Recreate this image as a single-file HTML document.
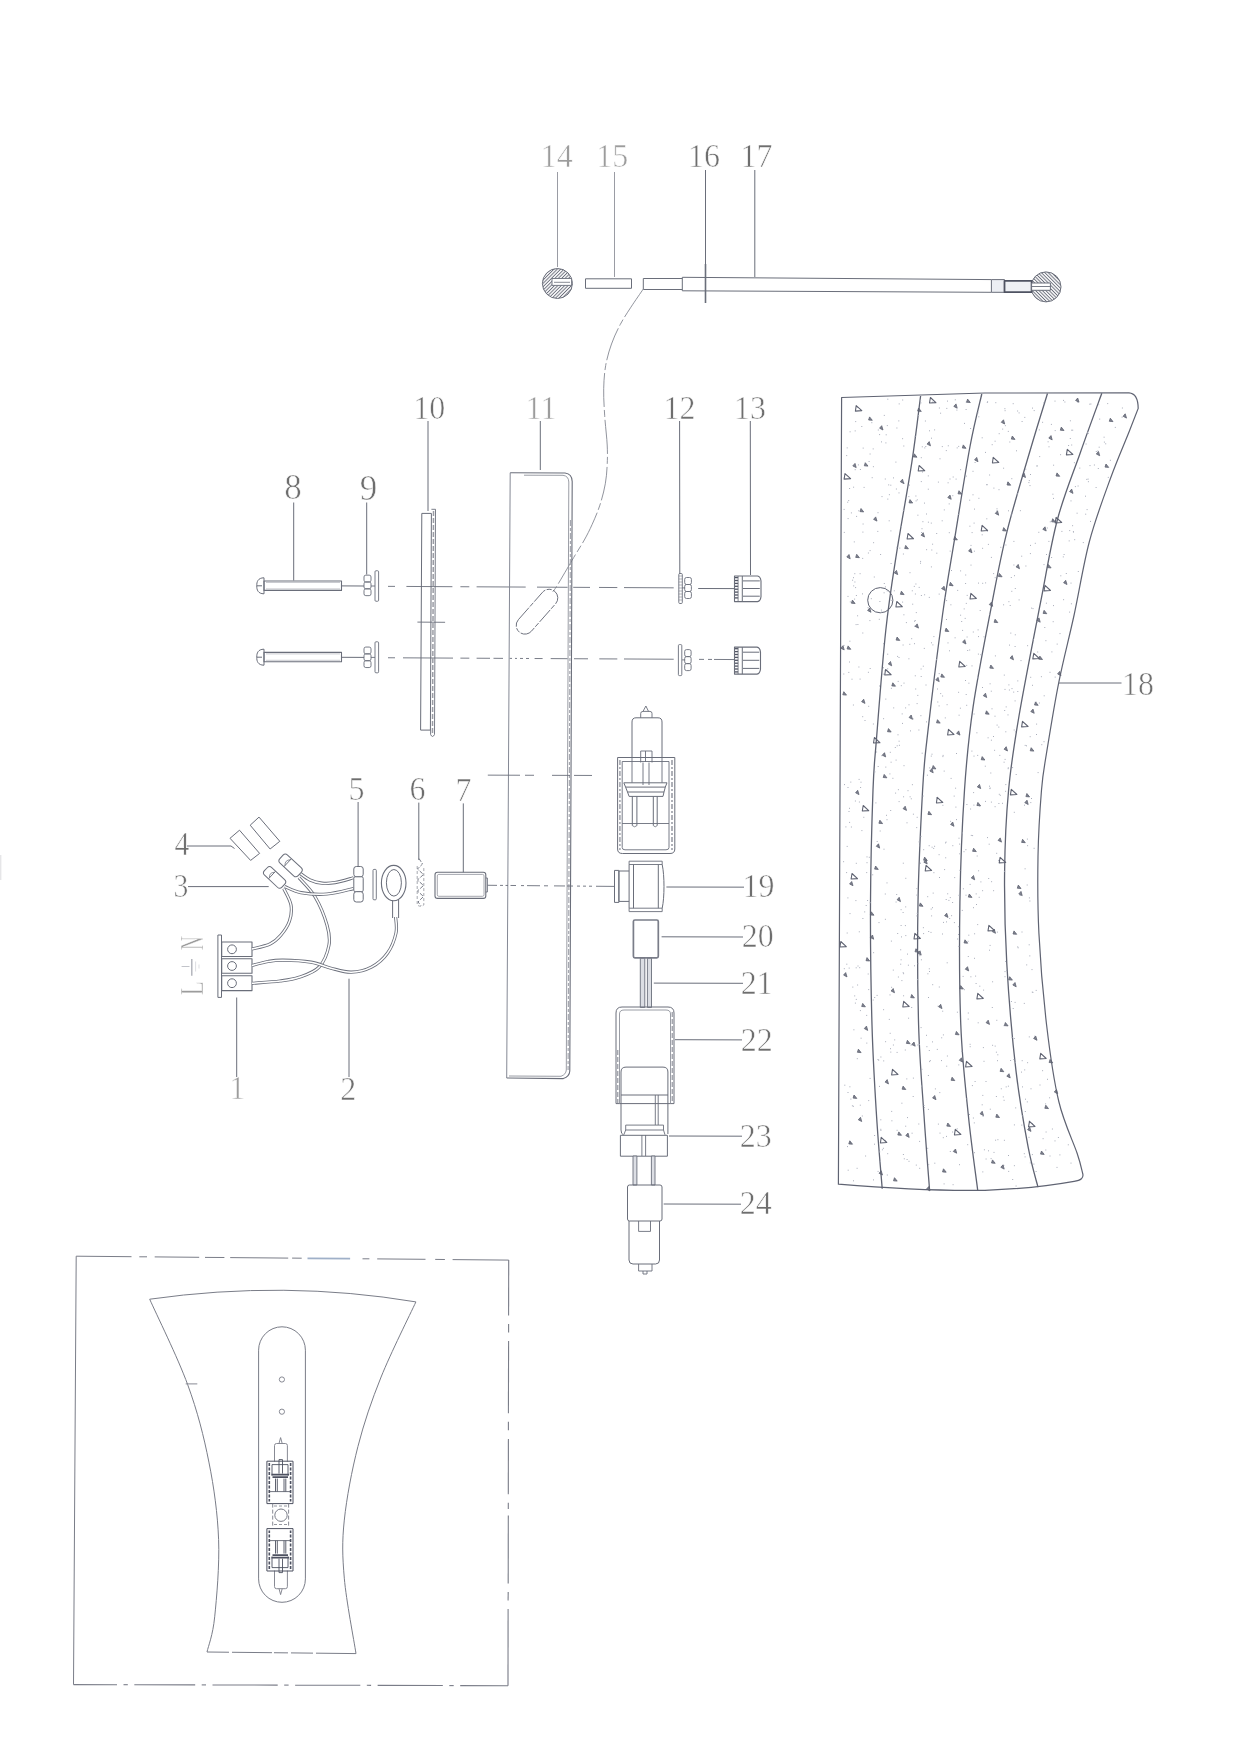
<!DOCTYPE html>
<html><head><meta charset="utf-8"><title>Exploded diagram</title>
<style>
html,body{margin:0;padding:0;background:#fff;}
body{width:1241px;height:1752px;overflow:hidden;font-family:"Liberation Serif",serif;}
svg{display:block;font-family:"Liberation Serif",serif;}
</style></head><body>
<svg width="1241" height="1752" viewBox="0 0 1241 1752" fill="none" stroke="#6a6e7a" stroke-linecap="butt" stroke-linejoin="round">
<defs>
<pattern id="hatch" width="2.4" height="2.4" patternUnits="userSpaceOnUse" patternTransform="rotate(-45)"><rect width="2.4" height="2.4" fill="#fff" stroke="none"/><line x1="0" y1="1.2" x2="2.4" y2="1.2" stroke="#6a6e7a" stroke-width="0.95"/></pattern>
<pattern id="hatch2" width="2.4" height="2.4" patternUnits="userSpaceOnUse" patternTransform="rotate(45)"><rect width="2.4" height="2.4" fill="#fff" stroke="none"/><line x1="0" y1="1.2" x2="2.4" y2="1.2" stroke="#6a6e7a" stroke-width="0.95"/></pattern>
</defs>
<line x1="557.5" y1="172" x2="557.5" y2="267" stroke-width="1" stroke="#9a9ca4"/>
<line x1="614.5" y1="172" x2="614.5" y2="277" stroke-width="1" stroke="#9a9ca4"/>
<line x1="705.5" y1="170" x2="705.5" y2="264" stroke-width="1"/>
<line x1="754.8" y1="170" x2="754.8" y2="277" stroke-width="1"/>
<circle cx="557.4" cy="283.5" r="15" fill="url(#hatch)" stroke-width="1"/>
<rect x="552" y="278.5" width="19.6" height="6.9" stroke-width="0.9" fill="#fff"/>
<line x1="554" y1="282.3" x2="570" y2="282.3" stroke-width="0.8"/>
<rect x="585.5" y="278.8" width="46.0" height="9.5" stroke-width="1" fill="none"/>
<path d="M682.3,278.5 H643.3 V289.5 H682.3" stroke-width="1" fill="none"/>
<path d="M682.3,277.3 L991.4,279.6 M682.3,290.8 L991.4,292.3 M682.3,277.3 V290.8" stroke-width="1" fill="none"/>
<line x1="705.5" y1="264" x2="705.5" y2="303" stroke-width="1.6"/>
<path d="M991.4,279.6 H1004.5 V292.3 H991.4 Z" stroke-width="1" fill="#eceef3"/>
<circle cx="1046" cy="286.9" r="15" fill="url(#hatch2)" stroke-width="1"/>
<rect x="1004.5" y="280.8" width="27.1" height="11.4" stroke-width="1.8" fill="#eef0f4" stroke="#4f5362"/>
<rect x="1031.6" y="283" width="18.8" height="7.3" stroke-width="1" fill="#fff"/>
<line x1="1031.6" y1="286.5" x2="1050.4" y2="286.5" stroke-width="0.9"/>
<path d="M643.5,288.7 C641.4,291.8 634.8,301.2 630.9,307.2 C627.0,313.2 623.4,318.5 620.2,324.6 C617.0,330.7 613.9,337.2 611.5,344 C609.1,350.8 607.0,357.9 605.7,365.4 C604.4,372.8 603.9,380.3 603.7,388.7 C603.5,397.1 604.1,406.4 604.7,415.8 C605.3,425.2 606.8,436.9 607.2,445 C607.6,453.1 607.5,457.9 607.2,464.4 C606.9,470.9 606.5,477.0 605.3,483.8 C604.1,490.6 602.1,498.3 599.9,505.1 C597.7,511.9 594.7,518.7 592.1,524.5 C589.5,530.3 587.4,534.5 584.3,540 C581.2,545.5 576.6,552.6 573.7,557.5 C570.8,562.4 570.0,563.9 566.9,569.1 C563.8,574.3 557.9,584.6 555.2,588.6 C552.6,592.6 551.7,592.3 551,593" stroke-width="0.9" fill="none" stroke="#858892" stroke-dasharray="34 3 7 3"/>
<line x1="428" y1="421" x2="428" y2="511" stroke-width="1"/>
<line x1="540.3" y1="421" x2="540.3" y2="470" stroke-width="1"/>
<line x1="679.6" y1="421" x2="679.8" y2="574" stroke-width="1"/>
<line x1="750.3" y1="421" x2="750.5" y2="575" stroke-width="1"/>
<line x1="293.7" y1="502.5" x2="293.7" y2="580.5" stroke-width="1"/>
<line x1="366.7" y1="502.5" x2="366.7" y2="574.5" stroke-width="1"/>
<path d="M264,577.8 C258,577.8 256.6,581.8 256.8,585.8 C256.6,589.8 258,593.8 264,593.8 Z" stroke-width="1" fill="none"/>
<line x1="256.8" y1="585.8" x2="262" y2="585.8" stroke-width="1"/>
<rect x="264" y="581.0" width="77.5" height="9.4" stroke-width="1.1" fill="none"/>
<line x1="266" y1="582.5" x2="340" y2="582.5" stroke-width="0.6" opacity="0.6"/>
<line x1="266" y1="588.9" x2="340" y2="588.9" stroke-width="0.6" opacity="0.6"/>
<line x1="341.5" y1="585.9" x2="364" y2="586" stroke-width="1"/>
<rect x="364" y="575.15" width="7" height="6.83" stroke-width="0.9" fill="none" rx="1.8"/>
<rect x="364" y="581.98" width="7" height="6.84" stroke-width="0.9" fill="none" rx="1.8"/>
<rect x="364" y="588.82" width="7" height="6.83" stroke-width="0.9" fill="none" rx="1.8"/>
<rect x="375" y="570.75" width="3.6" height="30.5" stroke-width="0.9" fill="none" rx="1"/>
<line x1="371" y1="586" x2="375" y2="586" stroke-width="0.9"/>
<line x1="388" y1="586.36" x2="395" y2="586.39" stroke-width="0.9"/>
<line x1="406.4" y1="586.45" x2="452.4" y2="586.69" stroke-width="0.9"/>
<line x1="460.4" y1="586.73" x2="469.3" y2="586.78" stroke-width="0.9"/>
<line x1="476.6" y1="586.82" x2="525.7" y2="587.07" stroke-width="0.9"/>
<line x1="537" y1="587.13" x2="567.6" y2="587.29" stroke-width="0.9"/>
<line x1="573.2" y1="587.32" x2="590" y2="587.41" stroke-width="0.9"/>
<line x1="599" y1="587.45" x2="617.3" y2="587.55" stroke-width="0.9"/>
<line x1="624" y1="587.58" x2="673.7" y2="587.84" stroke-width="0.9"/>
<line x1="698.2" y1="588.5" x2="734.5" y2="588.6" stroke-width="1"/>
<path d="M264,649.2 C258,649.2 256.6,653.2 256.8,657.2 C256.6,661.2 258,665.2 264,665.2 Z" stroke-width="1" fill="none"/>
<line x1="256.8" y1="657.2" x2="262" y2="657.2" stroke-width="1"/>
<rect x="264" y="652.4000000000001" width="77.5" height="9.4" stroke-width="1.1" fill="none"/>
<line x1="266" y1="653.9000000000001" x2="340" y2="653.9000000000001" stroke-width="0.6" opacity="0.6"/>
<line x1="266" y1="660.3000000000001" x2="340" y2="660.3000000000001" stroke-width="0.6" opacity="0.6"/>
<line x1="341.5" y1="657.3" x2="364" y2="657.4" stroke-width="1"/>
<rect x="364" y="647.05" width="7" height="6.83" stroke-width="0.9" fill="none" rx="1.8"/>
<rect x="364" y="653.88" width="7" height="6.84" stroke-width="0.9" fill="none" rx="1.8"/>
<rect x="364" y="660.72" width="7" height="6.83" stroke-width="0.9" fill="none" rx="1.8"/>
<rect x="375" y="641.8" width="3.6" height="31.0" stroke-width="0.9" fill="none" rx="1"/>
<line x1="371" y1="657.4" x2="375" y2="657.4" stroke-width="0.9"/>
<line x1="388" y1="657.76" x2="395" y2="657.79" stroke-width="0.9"/>
<line x1="403" y1="657.84" x2="453" y2="658.1" stroke-width="0.9"/>
<line x1="460.4" y1="658.13" x2="469.3" y2="658.18" stroke-width="0.9"/>
<line x1="476.6" y1="658.22" x2="490" y2="658.29" stroke-width="0.9"/>
<line x1="493.5" y1="658.31" x2="503" y2="658.36" stroke-width="0.9"/>
<line x1="509.6" y1="658.39" x2="512" y2="658.4" stroke-width="0.9"/>
<line x1="515" y1="658.42" x2="517" y2="658.43" stroke-width="0.9"/>
<line x1="520" y1="658.44" x2="523" y2="658.46" stroke-width="0.9"/>
<line x1="526" y1="658.48" x2="529" y2="658.49" stroke-width="0.9"/>
<line x1="534.6" y1="658.52" x2="542.6" y2="658.56" stroke-width="0.9"/>
<line x1="550.7" y1="658.6" x2="567.6" y2="658.69" stroke-width="0.9"/>
<line x1="574" y1="658.72" x2="588" y2="658.8" stroke-width="0.9"/>
<line x1="599.3" y1="658.86" x2="617.3" y2="658.95" stroke-width="0.9"/>
<line x1="624" y1="658.98" x2="673.7" y2="659.24" stroke-width="0.9"/>
<line x1="699" y1="659.37" x2="704" y2="659.4" stroke-width="0.9"/>
<line x1="708" y1="659.42" x2="712" y2="659.44" stroke-width="0.9"/>
<line x1="714" y1="659.45" x2="734.7" y2="659.56" stroke-width="0.9"/>
<path d="M421.8,513.4 H431.4 M421.8,513.4 L420.6,730.1 H430.4 M431.4,513.4 L430.4,730.1" stroke-width="1" fill="none"/>
<path d="M431.4,509.3 H435.5 L434.5,734.5 Q432.5,738.5 430.6,734.5 V730" stroke-width="0.9" fill="none"/>
<line x1="433.5" y1="511" x2="432.5" y2="734" stroke-width="1.5" stroke="#9a9ca4" stroke-dasharray="5 2"/>
<line x1="417.4" y1="622.1" x2="445.1" y2="622.3" stroke-width="0.9"/>
<rect x="678.8" y="573.5" width="3.5" height="30.0" stroke-width="0.9" fill="none" rx="1"/>
<line x1="678.8" y1="576" x2="682.3" y2="576" stroke-width="0.5"/>
<line x1="678.8" y1="579" x2="682.3" y2="579" stroke-width="0.5"/>
<line x1="678.8" y1="582" x2="682.3" y2="582" stroke-width="0.5"/>
<line x1="678.8" y1="585" x2="682.3" y2="585" stroke-width="0.5"/>
<line x1="678.8" y1="588" x2="682.3" y2="588" stroke-width="0.5"/>
<line x1="678.8" y1="591" x2="682.3" y2="591" stroke-width="0.5"/>
<line x1="678.8" y1="594" x2="682.3" y2="594" stroke-width="0.5"/>
<line x1="678.8" y1="597" x2="682.3" y2="597" stroke-width="0.5"/>
<line x1="678.8" y1="600" x2="682.3" y2="600" stroke-width="0.5"/>
<rect x="684.7" y="577.5" width="6.7" height="7.0" stroke-width="0.9" fill="none" rx="1.8"/>
<rect x="684.7" y="584.5" width="6.7" height="7.0" stroke-width="0.9" fill="none" rx="1.8"/>
<rect x="684.7" y="591.5" width="6.7" height="7.0" stroke-width="0.9" fill="none" rx="1.8"/>
<line x1="682.1" y1="587.9" x2="685" y2="587.9" stroke-width="0.9"/>
<rect x="678.4" y="644.6" width="3.4" height="31.0" stroke-width="0.9" fill="none" rx="1"/>
<rect x="684.7" y="649.6" width="6.4" height="7.0" stroke-width="0.9" fill="none" rx="1.8"/>
<rect x="684.7" y="656.6" width="6.4" height="7.0" stroke-width="0.9" fill="none" rx="1.8"/>
<rect x="684.7" y="663.6" width="6.4" height="7.0" stroke-width="0.9" fill="none" rx="1.8"/>
<line x1="682.1" y1="659.9" x2="685" y2="659.9" stroke-width="0.9"/>
<path d="M734.5,576.0 H757.5 Q760.5,576.5 761.0,581.0 V596.5999999999999 Q760.5,601.0999999999999 757.5,601.5999999999999 H734.5 Z" stroke-width="1.1" fill="none"/>
<line x1="742.3" y1="576.0" x2="742.3" y2="601.5999999999999" stroke-width="1"/>
<line x1="735.0" y1="577.6" x2="738.1" y2="577.6" stroke-width="1.3" stroke="#4f5362"/>
<line x1="735.0" y1="580.5" x2="738.1" y2="580.5" stroke-width="1.3" stroke="#4f5362"/>
<line x1="735.0" y1="583.4" x2="738.1" y2="583.4" stroke-width="1.3" stroke="#4f5362"/>
<line x1="735.0" y1="586.3" x2="738.1" y2="586.3" stroke-width="1.3" stroke="#4f5362"/>
<line x1="735.0" y1="589.2" x2="738.1" y2="589.2" stroke-width="1.3" stroke="#4f5362"/>
<line x1="735.0" y1="592.1" x2="738.1" y2="592.1" stroke-width="1.3" stroke="#4f5362"/>
<line x1="735.0" y1="595.0" x2="738.1" y2="595.0" stroke-width="1.3" stroke="#4f5362"/>
<line x1="735.0" y1="597.9" x2="738.1" y2="597.9" stroke-width="1.3" stroke="#4f5362"/>
<line x1="738.1" y1="576.0" x2="738.1" y2="601.5999999999999" stroke-width="0.8"/>
<line x1="743.0" y1="580.9" x2="759.8" y2="580.9" stroke-width="1"/>
<line x1="743.0" y1="588.5" x2="759.8" y2="588.5" stroke-width="1"/>
<line x1="743.0" y1="596.2" x2="759.8" y2="596.2" stroke-width="1"/>
<path d="M734.5,647.1 H757.0 Q760.0,647.6 760.5,652.1 V669.1 Q760.0,673.6 757.0,674.1 H734.5 Z" stroke-width="1.1" fill="none"/>
<line x1="742.3" y1="647.1" x2="742.3" y2="674.1" stroke-width="1"/>
<line x1="735.0" y1="648.7" x2="738.1" y2="648.7" stroke-width="1.3" stroke="#4f5362"/>
<line x1="735.0" y1="651.6" x2="738.1" y2="651.6" stroke-width="1.3" stroke="#4f5362"/>
<line x1="735.0" y1="654.5" x2="738.1" y2="654.5" stroke-width="1.3" stroke="#4f5362"/>
<line x1="735.0" y1="657.4" x2="738.1" y2="657.4" stroke-width="1.3" stroke="#4f5362"/>
<line x1="735.0" y1="660.3" x2="738.1" y2="660.3" stroke-width="1.3" stroke="#4f5362"/>
<line x1="735.0" y1="663.2" x2="738.1" y2="663.2" stroke-width="1.3" stroke="#4f5362"/>
<line x1="735.0" y1="666.1" x2="738.1" y2="666.1" stroke-width="1.3" stroke="#4f5362"/>
<line x1="735.0" y1="669.0" x2="738.1" y2="669.0" stroke-width="1.3" stroke="#4f5362"/>
<line x1="735.0" y1="671.9" x2="738.1" y2="671.9" stroke-width="1.3" stroke="#4f5362"/>
<line x1="738.1" y1="647.1" x2="738.1" y2="674.1" stroke-width="0.8"/>
<line x1="743.0" y1="652.2" x2="759.3" y2="652.2" stroke-width="1"/>
<line x1="743.0" y1="660.3" x2="759.3" y2="660.3" stroke-width="1"/>
<line x1="743.0" y1="668.4" x2="759.3" y2="668.4" stroke-width="1"/>
<path d="M506.7,1078 L510.2,472.8" stroke-width="1" fill="none" stroke="#858995"/>
<path d="M510.2,472.8 L565,473 Q572,473.8 572.2,481.5 L569.8,1071 Q569.5,1076.5 563.3,1078.6 L506.7,1078" stroke-width="1.1" fill="none"/>
<path d="M524,475.2 L563,475.3 Q568.6,476 568.8,482 L566.3,1070 Q566,1074.5 561,1076.3 L509,1076" stroke-width="0.9" fill="none" stroke="#8f929b"/>
<line x1="570.5" y1="520" x2="568.1" y2="1070" stroke-width="1.2" stroke="#a6a8b0" stroke-dasharray="6 2 3 2"/>
<rect x="-27" y="-8.7" width="54" height="17.4" rx="8.7" transform="translate(537,611.7) rotate(-48.6)" stroke-width="0.9" stroke-dasharray="16 1.5 5 1.5"/>
<line x1="487.8" y1="775.14" x2="520" y2="775.24" stroke-width="0.9"/>
<line x1="525" y1="775.25" x2="534" y2="775.28" stroke-width="0.9"/>
<line x1="552" y1="775.34" x2="570" y2="775.39" stroke-width="0.9"/>
<line x1="574" y1="775.4" x2="592" y2="775.46" stroke-width="0.9"/>
<line x1="358.1" y1="802" x2="358.1" y2="866" stroke-width="1"/>
<line x1="418.8" y1="802.6" x2="418.8" y2="860" stroke-width="1"/>
<line x1="463.3" y1="803.4" x2="463.3" y2="872.3" stroke-width="1"/>
<path d="M187,846 H231 L234.5,848.5" stroke-width="1" fill="none"/>
<line x1="188" y1="886.6" x2="268.7" y2="886.6" stroke-width="1"/>
<line x1="236.7" y1="997.5" x2="236.7" y2="1077" stroke-width="1"/>
<line x1="349" y1="978.7" x2="349" y2="1077" stroke-width="1"/>
<rect x="217.9" y="935" width="3.6" height="62.4" stroke-width="1" fill="none"/>
<rect x="221.7" y="942" width="30.3" height="14.5" stroke-width="1.1" fill="none"/>
<circle cx="232" cy="949.3" r="4.4" stroke-width="1"/>
<rect x="221.7" y="958.7" width="30.3" height="14.5" stroke-width="1.1" fill="none"/>
<circle cx="232" cy="966" r="4.4" stroke-width="1"/>
<rect x="221.7" y="975.8" width="30.3" height="14.8" stroke-width="1.1" fill="none"/>
<circle cx="232" cy="983.2" r="4.4" stroke-width="1"/>
<path d="M181.6,966.5 H189.5" stroke-width="0.8" fill="none" stroke="#b3b5bc"/>
<path d="M191.8,959 V975.8" stroke-width="1.3" fill="none" stroke="#a9abb3"/>
<path d="M195.6,961.5 V971.5 M199,964.5 V968.5" stroke-width="0.7" fill="none" stroke="#cfd0d5"/>
<path d="M252,949 C255.0,948.2 265.2,946.3 270,944 C274.8,941.7 277.8,938.8 281,935 C284.2,931.2 287.8,926.0 289.5,921 C291.2,916.0 291.9,910.4 291,905 C290.1,899.6 285.0,891.3 283.8,888.6" stroke-width="3.2" fill="none"/>
<path d="M252,949 C255.0,948.2 265.2,946.3 270,944 C274.8,941.7 277.8,938.8 281,935 C284.2,931.2 287.8,926.0 289.5,921 C291.2,916.0 291.9,910.4 291,905 C290.1,899.6 285.0,891.3 283.8,888.6" stroke-width="1.5" fill="none" stroke="#fff"/>
<path d="M252,983.3 C256.7,982.9 272.2,982.0 280,981 C287.8,980.0 292.5,979.6 299,977.3 C305.5,975.0 314.0,972.6 319,967.2 C324.0,961.8 327.7,952.0 329,945 C330.3,938.0 329.3,933.0 327,925 C324.7,917.0 319.7,904.6 315,896.7 C310.3,888.8 301.6,880.8 298.9,877.6" stroke-width="3.2" fill="none"/>
<path d="M252,983.3 C256.7,982.9 272.2,982.0 280,981 C287.8,980.0 292.5,979.6 299,977.3 C305.5,975.0 314.0,972.6 319,967.2 C324.0,961.8 327.7,952.0 329,945 C330.3,938.0 329.3,933.0 327,925 C324.7,917.0 319.7,904.6 315,896.7 C310.3,888.8 301.6,880.8 298.9,877.6" stroke-width="1.5" fill="none" stroke="#fff"/>
<path d="M252,965.5 C254.7,964.8 262.8,962.4 268,961.5 C273.2,960.6 275.8,960.1 283,960.2 C290.2,960.3 303.0,960.9 311,962.2 C319.0,963.5 324.3,966.5 331,968.2 C337.7,969.9 344.6,972.4 351.3,972.2 C358.0,972.0 365.3,970.4 371.4,967.2 C377.4,964.0 383.5,958.7 387.6,953 C391.7,947.3 394.7,939.0 396,933 C397.3,927.0 395.7,919.7 395.6,917" stroke-width="3.2" fill="none"/>
<path d="M252,965.5 C254.7,964.8 262.8,962.4 268,961.5 C273.2,960.6 275.8,960.1 283,960.2 C290.2,960.3 303.0,960.9 311,962.2 C319.0,963.5 324.3,966.5 331,968.2 C337.7,969.9 344.6,972.4 351.3,972.2 C358.0,972.0 365.3,970.4 371.4,967.2 C377.4,964.0 383.5,958.7 387.6,953 C391.7,947.3 394.7,939.0 396,933 C397.3,927.0 395.7,919.7 395.6,917" stroke-width="1.5" fill="none" stroke="#fff"/>
<path d="M284.8,886.6 C287.5,887.6 294.0,891.5 301,892.7 C308.0,893.9 318.2,894.7 327,894 C335.8,893.3 349.1,889.5 353.5,888.6" stroke-width="3.2" fill="none"/>
<path d="M284.8,886.6 C287.5,887.6 294.0,891.5 301,892.7 C308.0,893.9 318.2,894.7 327,894 C335.8,893.3 349.1,889.5 353.5,888.6" stroke-width="1.5" fill="none" stroke="#fff"/>
<path d="M299,872.5 C300.8,873.8 306.2,878.2 310,880 C313.8,881.8 317.8,882.8 322,883.2 C326.2,883.6 329.8,883.5 335,882.6 C340.2,881.7 350.4,878.6 353.5,877.8" stroke-width="3.2" fill="none"/>
<path d="M299,872.5 C300.8,873.8 306.2,878.2 310,880 C313.8,881.8 317.8,882.8 322,883.2 C326.2,883.6 329.8,883.5 335,882.6 C340.2,881.7 350.4,878.6 353.5,877.8" stroke-width="1.5" fill="none" stroke="#fff"/>
<path d="M230,838.3 L239.5,830.2 L259.6,853.4 L250.6,860.4 Z" stroke-width="1" fill="none"/>
<path d="M250.2,825.2 L259,817.1 L279.8,841.3 L270.1,849 Z" stroke-width="1" fill="none"/>
<g transform="translate(274.6,877.4) rotate(43)"><rect x="-12.0" y="-5.25" width="24" height="10.5" rx="3.2" fill="#fff" stroke-width="1"/><path d="M-3.5,-5.25 V5.25" stroke-width="0.9"/><path d="M-3.5,-3.75 q-4,3.75 0,7.5" stroke-width="0.7"/></g>
<g transform="translate(290.6,865.4) rotate(43)"><rect x="-12.5" y="-5.5" width="25" height="11" rx="3.2" fill="#fff" stroke-width="1"/><path d="M-4.0,-5.5 V5.5" stroke-width="0.9"/><path d="M-4.0,-4.0 q-4,4.0 0,8" stroke-width="0.7"/></g>
<rect x="353.8" y="866.5" width="9.4" height="10.3" stroke-width="1" fill="#fff" rx="2.5"/>
<rect x="353.8" y="876.8" width="9.4" height="14.9" stroke-width="1" fill="#fff" rx="1.5"/>
<rect x="353.8" y="891.7" width="9.4" height="10.3" stroke-width="1" fill="#fff" rx="2.5"/>
<rect x="373" y="869.4" width="3.3" height="30.4" stroke-width="0.9" fill="none" rx="1"/>
<ellipse cx="393.7" cy="883.1" rx="12.3" ry="17.7" stroke-width="1.1" fill="#fff"/>
<ellipse cx="393.9" cy="882.8" rx="7.5" ry="13.3" stroke-width="1"/>
<path d="M392.6,900.6 V918 M398.6,900 V918" stroke-width="1" fill="none"/>
<path d="M419,858.5 L422.5,864 L417.5,869 L423.5,874.5 L417.5,880 L423.5,885.5 L417.5,891 L423.5,896.5 L418,902 L421,905.6" stroke-width="0.9" fill="none" stroke-dasharray="4 1.5"/>
<path d="M417.2,866 V905 Q420.5,907.5 423.8,905 V868" stroke-width="0.8" fill="none" stroke="#8f929b" stroke-dasharray="3 2"/>
<rect x="435" y="872.3" width="50.8" height="26.1" stroke-width="1.1" fill="none" rx="2.5"/>
<rect x="437.3" y="874.4" width="46.7" height="21.9" stroke-width="0.8" fill="none" rx="1.5" stroke="#8f929b"/>
<path d="M485.8,878 H487.4 V892 H485.8" stroke-width="0.9" fill="none"/>
<line x1="487.4" y1="885.28" x2="497" y2="885.36" stroke-width="0.9"/>
<line x1="500" y1="885.39" x2="503" y2="885.42" stroke-width="0.9"/>
<line x1="505.5" y1="885.44" x2="508" y2="885.46" stroke-width="0.9"/>
<line x1="510.5" y1="885.48" x2="516" y2="885.53" stroke-width="0.9"/>
<line x1="521" y1="885.58" x2="524" y2="885.61" stroke-width="0.9"/>
<line x1="527" y1="885.63" x2="540" y2="885.75" stroke-width="0.9"/>
<line x1="544" y1="885.79" x2="548" y2="885.82" stroke-width="0.9"/>
<line x1="554" y1="885.88" x2="565" y2="885.97" stroke-width="0.9"/>
<line x1="567" y1="885.99" x2="573" y2="886.05" stroke-width="0.9"/>
<line x1="577" y1="886.08" x2="580" y2="886.11" stroke-width="0.9"/>
<line x1="583" y1="886.14" x2="586" y2="886.16" stroke-width="0.9"/>
<line x1="589" y1="886.19" x2="592" y2="886.22" stroke-width="0.9"/>
<line x1="596" y1="886.25" x2="614.7" y2="886.42" stroke-width="0.9"/>
<path d="M632,757.5 V722 Q632,717.8 636,717.8 H658 Q662,717.8 662,722 V757.5" stroke-width="1" fill="none"/>
<path d="M640.7,717.8 V713.5 Q640.7,711.4 643,711.4 H650 Q652,711.4 652,713.5 V717.8 M643,711.4 L645.9,706 L648.5,711.4" stroke-width="0.9" fill="none"/>
<path d="M617.6,757.5 H674.8 V849 Q674.8,853.5 670,853.5 H622.4 Q617.6,853.5 617.6,849 Z" stroke-width="1" fill="none"/>
<path d="M622.2,761.5 H669 V847.5 Q669,849.8 666,849.8 H625 Q622.2,849.8 622.2,847.5 Z" stroke-width="0.9" fill="none"/>
<line x1="619.9" y1="760" x2="619.9" y2="850" stroke-width="1.6" stroke="#a6a8b0" stroke-dasharray="5 2 2 2"/>
<line x1="672" y1="760" x2="672" y2="850" stroke-width="1.8" stroke="#a6a8b0" stroke-dasharray="5 2 2 2"/>
<path d="M640.7,762.5 V751 H652 V762.5 M643,762.5 V785 M649,762.5 V785 M645.5,751 V762" stroke-width="0.9" fill="none"/>
<path d="M632,757.5 V782.7 M662,757.5 V782.7" stroke-width="0.9" fill="none"/>
<path d="M623.8,782.8 H667 L665.3,787.1 H625.6 Z M625.6,787.1 L627.5,792 H664 L665.3,787.1 M627.5,792 L629.1,796.4 H663 L664,792" stroke-width="1" fill="none"/>
<path d="M632.3,796.4 V825.6 M636.9,796.4 V825.6 M653.3,796.4 V825.6 M657.2,796.4 V825.6" stroke-width="1" fill="none"/>
<path d="M632.3,825.6 Q634.6,828 636.9,825.6 M653.3,825.6 Q655.2,828 657.2,825.6" stroke-width="0.8" fill="none"/>
<line x1="622.2" y1="823.5" x2="669" y2="823.5" stroke-width="0.9"/>
<path d="M629.1,861.2 H662.2 V864.5 H629.1 Z M629.1,908.2 H662.2 V911.6 H629.1 Z" stroke-width="0.9" fill="none"/>
<path d="M629.1,864.5 V908.2 M633.5,864.5 V908.2 M658.3,864.5 V908.2 M662.2,864.5 C664.6,876 664.6,897 662.2,908.2" stroke-width="1" fill="none"/>
<path d="M629.1,871 H618.9 V901.4 H629.1 M618.9,870.4 H614.5 V902.4 H618.9 Z" stroke-width="1" fill="none"/>
<line x1="666.4" y1="887.0" x2="744" y2="887.16" stroke-width="1"/>
<rect x="633.4" y="920" width="24.9" height="37.8" stroke-width="1.7" fill="none" rx="1.5" stroke="#7a7d89"/>
<line x1="661.6" y1="936.8" x2="743" y2="937" stroke-width="1"/>
<rect x="640.3" y="958.3" width="4.5" height="49.1" stroke-width="0.9" fill="#dcdee4"/>
<rect x="647.4" y="958.3" width="4.1" height="49.1" stroke-width="0.9" fill="#dcdee4"/>
<line x1="653.8" y1="983.1" x2="743" y2="983.3" stroke-width="1"/>
<path d="M616,1103.6 V1013 Q616,1007 622,1007 H668 Q674,1007 674,1013 V1103.6 Z" stroke-width="1" fill="none"/>
<path d="M619.5,1103.6 V1014 Q619.5,1010 624,1010 H666 Q670.5,1010 670.5,1014 V1103.6" stroke-width="0.9" fill="none" stroke="#8f929b"/>
<line x1="617.7" y1="1050" x2="617.7" y2="1103" stroke-width="1.5" stroke="#a6a8b0" stroke-dasharray="5 2"/>
<line x1="672.3" y1="1012" x2="672.3" y2="1103" stroke-width="1.5" stroke="#a6a8b0" stroke-dasharray="5 2"/>
<line x1="675" y1="1039.7" x2="742" y2="1039.9" stroke-width="1"/>
<path d="M623.5,1135 Q621,1134 621,1130 V1072 Q621,1067.1 626,1067.1 H663 Q667.9,1067.1 667.9,1072 V1134" stroke-width="1" fill="none"/>
<line x1="621" y1="1095" x2="668" y2="1095" stroke-width="1"/>
<path d="M655.3,1095 V1125 M658.2,1095 V1125" stroke-width="0.9" fill="none"/>
<path d="M625.7,1130 V1125.1 H663.5 V1130 M623.8,1134.8 L625.7,1130 H663.5 L665,1134.8" stroke-width="0.9" fill="none"/>
<path d="M620.4,1135.3 H667.4 V1156.2 H620.4 Z" stroke-width="1" fill="none"/>
<path d="M641.9,1135 V1156 M645.6,1135 V1156" stroke-width="0.9" fill="none"/>
<line x1="669" y1="1136" x2="742" y2="1136.2" stroke-width="1"/>
<rect x="633" y="1156" width="3.9" height="29" stroke-width="0.9" fill="#dcdee4"/>
<rect x="651.4" y="1156" width="3.6" height="29" stroke-width="0.9" fill="#dcdee4"/>
<rect x="627.5" y="1185" width="34.5" height="36" stroke-width="1" fill="none" rx="2"/>
<path d="M629,1221 V1260 Q629,1264 633,1264 H655.5 Q659.5,1264 659.5,1260 V1221" stroke-width="1" fill="none"/>
<path d="M638.6,1221 V1231.4 H650.5 V1221" stroke-width="0.9" fill="none"/>
<path d="M638.6,1264 V1271 H652 V1264 M643,1271 V1274 H647 V1271" stroke-width="0.9" fill="none"/>
<line x1="663.7" y1="1204" x2="741" y2="1204.2" stroke-width="1"/>
<path d="M841.6,397.5 L984.7,393 L1129,392.9 Q1138,393.5 1138.2,408.4 C1136.7,412.2 1133.8,419.7 1129.3,431.2 C1124.8,442.7 1117.6,458.8 1110.9,477.2 C1104.2,495.6 1095.5,518.5 1089.4,541.5 C1083.3,564.5 1079.2,591.5 1074.1,615 C1069.0,638.5 1063.4,659.3 1058.8,682.3 C1054.2,705.2 1049.5,734.8 1046.6,752.7 C1043.7,770.7 1042.9,772.7 1041.5,790 C1040.1,807.3 1038.4,832.6 1038,856.5 C1037.6,880.4 1037.5,905.0 1038.9,933.1 C1040.3,961.2 1043.3,996.9 1046.6,1025 C1049.9,1053.1 1053.7,1080.1 1058.8,1101.5 C1063.9,1122.9 1073.2,1141.5 1077.2,1153.5 C1081.2,1165.5 1081.8,1170.2 1082.7,1173.5 Q1084.5,1180 1074.1,1181.3 Q1034,1188.5 985,1190.3 Q927,1191.5 838.4,1184.2 Z" stroke-width="1.2" fill="none" stroke="#5f6372"/>
<path d="M920.6,396 C919.1,407.0 915.9,435.6 911.9,461.9 C907.9,488.2 900.9,525.6 896.5,553.7 C892.1,581.8 889.1,599.7 885.8,630.3 C882.5,660.9 878.7,710.8 876.6,737.4 C874.5,764.0 874.0,762.5 873,790 C872.0,817.5 870.7,863.3 870.5,902.5 C870.3,941.7 871.0,989.3 872,1025 C873.0,1060.7 874.9,1089.5 876.6,1116.8 C878.3,1144.1 881.3,1176.8 882.2,1188.8" stroke-width="1.3" fill="none" stroke="#5f6372"/>
<path d="M981.8,394 C979.8,402.8 974.5,422.4 970,446.5 C965.5,470.6 959.3,510.3 954.7,538.4 C950.1,566.5 947.1,581.8 942.5,615 C937.9,648.2 930.5,708.2 927.2,737.4 C923.9,766.6 924.1,762.5 922.6,790 C921.1,817.5 918.7,863.3 918,902.5 C917.3,941.7 917.6,989.3 918.6,1025 C919.6,1060.7 922.3,1089.2 924.1,1116.8 C925.9,1144.3 928.7,1178.0 929.6,1190.3" stroke-width="1.3" fill="none" stroke="#5f6372"/>
<path d="M1047.5,393.5 C1044.8,402.3 1038.1,423.4 1031.3,446.5 C1024.5,469.6 1013.4,505.7 1006.8,532.3 C1000.2,558.8 997.1,576.7 991.5,605.8 C985.9,634.9 977.6,676.1 973.1,706.8 C968.6,737.5 966.7,757.4 964.5,790 C962.3,822.6 960.5,863.3 959.9,902.5 C959.3,941.7 959.4,989.3 960.8,1025 C962.2,1060.7 965.7,1089.2 968.5,1116.8 C971.3,1144.3 976.2,1178.0 977.7,1190.3" stroke-width="1.3" fill="none" stroke="#5f6372"/>
<path d="M1101.8,393.3 C1098.2,403.2 1087.7,431.6 1080.3,452.7 C1072.9,473.8 1063.9,495.0 1057.3,520 C1050.7,545.0 1046.9,570.0 1040.5,602.7 C1034.1,635.4 1024.3,684.8 1019,716 C1013.7,747.2 1011.0,764.0 1008.6,790 C1006.2,816.0 1004.9,842.9 1004.6,871.9 C1004.3,900.9 1004.9,930.5 1006.8,963.7 C1008.7,996.9 1012.4,1040.3 1016,1070.9 C1019.6,1101.5 1024.5,1128.0 1028.2,1147.4 C1031.9,1166.8 1036.4,1180.6 1038,1187.2" stroke-width="1.3" fill="none" stroke="#5f6372"/>
<circle cx="880.3" cy="600.2" r="12.6" stroke-width="1" stroke="#5f6372"/>
<line x1="1059" y1="683" x2="1121.5" y2="683" stroke-width="1"/>
<path d="M887.2,654.2h1M864.2,911.9h1M950.1,821.3h1M991.7,444.7h1M970.1,428.5h1M869.6,454.0h1M908.4,496.6h1M959.2,853.8h1M856.6,1168.3h1M927.9,1075.5h1M877.5,512.7h1M1013.4,541.4h1M952.1,902.5h1M861.4,830.6h1M903.3,446.0h1M968.3,935.2h1M1014.6,646.5h1M930.8,756.1h1M1011.3,591.3h1M927.4,973.8h1M877.6,1171.4h1M986.3,518.8h1M1038.8,429.9h1M1010.9,1001.5h1M934.9,1088.9h1M1017.2,946.9h1M976.7,856.0h1M1037.6,772.6h1M1048.5,446.8h1M926.4,1046.7h1M1038.9,703.0h1M978.3,416.8h1M877.3,531.4h1M1068.1,445.5h1M915.6,500.9h1M974.6,462.5h1M964.7,618.4h1M887.2,1153.7h1M911.0,537.9h1M985.1,582.9h1M920.0,863.2h1M965.8,402.2h1M1008.9,690.0h1M1045.3,1150.0h1M1024.0,805.2h1M858.8,931.8h1M959.9,708.2h1M1028.8,480.6h1M862.7,448.1h1M890.6,563.5h1M858.4,667.0h1M887.3,399.2h1M949.5,479.0h1M1099.2,419.1h1M886.5,882.9h1M944.8,597.8h1M879.0,686.0h1M984.8,766.2h1M872.9,466.7h1M920.6,669.0h1M890.3,1052.1h1M1121.6,417.2h1M886.0,815.3h1M850.9,827.0h1M1047.0,1079.3h1M950.4,604.8h1M1069.2,530.6h1M908.4,658.8h1M994.7,577.7h1M851.5,679.2h1M924.9,421.0h1M1045.9,603.2h1M974.0,1152.7h1M949.8,1151.5h1M909.5,572.7h1M902.9,554.0h1M983.5,1061.3h1M1036.6,465.8h1M983.1,990.1h1M1074.2,539.7h1M959.0,1164.7h1M892.8,970.1h1M887.3,499.1h1M1085.2,514.2h1M1035.6,1171.5h1M1003.8,675.1h1M847.2,502.2h1M1033.4,1164.1h1M904.8,1050.0h1M928.8,597.4h1M1014.8,588.5h1M965.8,603.4h1M977.2,677.8h1M998.8,794.3h1M848.5,811.5h1M896.7,745.8h1M1077.2,402.1h1M981.7,534.8h1M1006.0,970.5h1M994.9,655.9h1M1007.2,482.6h1M924.1,594.8h1M991.8,1007.5h1M972.9,1118.0h1M991.1,881.7h1M999.3,755.4h1M919.1,1141.4h1M883.2,1060.9h1M972.5,494.8h1M913.5,456.2h1M1039.2,456.6h1M1052.8,520.7h1M884.9,919.3h1M985.8,712.8h1M969.4,526.2h1M942.4,805.3h1M936.3,553.2h1M848.7,968.1h1M972.1,835.6h1M940.1,413.2h1M993.1,890.7h1M920.8,481.6h1M1071.2,430.2h1M881.0,612.1h1M918.8,1044.4h1M859.9,469.5h1M967.6,941.3h1M1093.9,465.0h1M1095.8,451.5h1M942.4,756.6h1M880.9,610.1h1M912.9,814.2h1M890.3,485.2h1M902.1,438.7h1M932.4,644.9h1M928.0,997.5h1M895.1,793.1h1M848.3,672.4h1M847.5,596.4h1M1004.5,976.7h1M982.1,548.3h1M874.1,1135.5h1M969.6,1044.3h1M991.5,708.8h1M1029.3,955.9h1M944.8,717.9h1M881.0,441.9h1M1060.1,454.7h1M890.8,600.4h1M1089.5,465.6h1M1039.5,1085.0h1M914.0,621.2h1M977.6,629.9h1M973.6,523.1h1M1003.3,1165.4h1M947.5,642.9h1M954.8,399.8h1M990.3,773.0h1M990.9,557.4h1M920.4,402.9h1M960.1,469.7h1M849.6,431.8h1M911.2,638.7h1M998.1,860.4h1M1035.7,990.4h1M938.6,705.9h1M886.8,1175.0h1M1031.5,969.6h1M1087.7,433.5h1M1026.8,1101.9h1M996.5,508.8h1M852.1,580.2h1M948.7,503.9h1M1087.9,481.7h1M1026.9,839.1h1M844.0,784.6h1M999.8,795.3h1M862.4,918.5h1M916.9,979.6h1M920.8,457.7h1M903.1,973.7h1M955.1,788.2h1M1023.8,1003.4h1M865.7,905.5h1M917.4,515.2h1M932.2,984.7h1M846.7,846.4h1M921.8,446.8h1M928.2,931.5h1M979.1,806.0h1M877.7,766.5h1M901.4,1103.2h1M977.5,412.8h1M921.7,753.2h1M1013.4,565.0h1M996.6,510.7h1M881.9,1149.8h1M992.1,1045.3h1M1049.1,1097.8h1M850.3,782.1h1M987.1,401.8h1M931.5,754.2h1M943.8,509.9h1M1063.0,400.4h1M878.2,1060.2h1M1051.9,1129.0h1M927.9,1109.4h1M958.1,692.3h1M1015.6,1186.0h1M968.4,683.2h1M857.1,615.8h1M1087.6,479.1h1M920.9,595.5h1M898.6,801.6h1M1003.9,1140.3h1M857.5,966.0h1M975.1,976.1h1M1031.8,992.1h1M857.4,624.5h1M880.3,1129.3h1M943.7,771.1h1M1059.5,633.6h1M919.2,1168.3h1M931.1,915.9h1M958.5,838.2h1M890.4,530.9h1M907.5,790.7h1M883.9,753.6h1M869.6,550.6h1M869.7,668.5h1M918.7,587.4h1M963.9,989.7h1M996.6,725.1h1M942.1,696.0h1M924.3,447.9h1M879.9,1161.5h1M1027.5,795.7h1M906.3,1078.9h1M915.8,612.6h1M973.6,714.0h1M849.4,1086.8h1M1050.9,424.4h1M981.7,1104.8h1M843.1,861.7h1M915.8,1165.1h1M888.2,484.9h1M1054.5,1140.9h1M1004.6,759.4h1M1072.2,430.2h1M932.0,907.7h1M916.8,499.8h1M863.6,487.4h1M1013.8,812.3h1M908.5,704.8h1M846.1,872.6h1M978.0,636.6h1M1031.9,1154.6h1M982.3,1095.4h1M915.4,584.0h1M1049.5,1156.0h1M849.4,641.2h1M918.4,730.0h1M853.0,577.7h1M966.2,665.4h1M901.0,936.9h1M903.1,796.8h1M934.3,1163.2h1M910.6,1045.2h1M1065.8,573.5h1M897.9,789.7h1M965.2,575.0h1M958.3,514.3h1M858.2,510.8h1M958.2,446.4h1M939.5,1133.1h1M852.3,987.1h1M953.9,922.6h1M940.2,693.6h1M843.8,532.4h1M946.0,619.5h1M879.2,1151.9h1M903.8,1158.8h1M969.7,1046.7h1M981.7,437.8h1M949.7,551.1h1M851.9,1105.8h1M854.9,1003.1h1M861.3,426.5h1M918.3,1124.0h1M922.8,666.2h1M1023.8,1153.7h1M1053.0,605.6h1M923.8,648.4h1M1064.4,402.0h1M1028.8,1121.2h1M850.1,1142.3h1M982.2,583.3h1M916.6,703.6h1M987.6,737.8h1M896.6,1130.3h1M939.0,877.5h1M949.0,650.8h1M866.2,1015.4h1M1063.6,554.5h1M862.0,593.9h1M1004.9,425.7h1M867.6,607.7h1M989.1,475.0h1M974.0,958.3h1M965.1,583.5h1M878.5,922.6h1M929.1,1061.6h1M952.3,845.7h1M901.4,980.6h1M914.9,594.0h1M938.6,854.7h1M910.8,798.8h1M1034.4,1036.1h1M873.0,1179.9h1M929.0,430.8h1M898.5,492.9h1M1013.9,1165.7h1M952.1,1132.0h1M974.6,1081.5h1M1070.9,603.8h1M874.0,1144.2h1M1024.6,868.8h1M951.0,570.5h1M902.8,510.4h1M1018.6,599.9h1M902.6,912.5h1M938.9,408.0h1M897.2,933.5h1M902.6,645.0h1M1003.6,1025.7h1M872.7,448.9h1M1004.2,710.5h1M869.7,902.7h1M1046.8,528.0h1M926.0,721.9h1M1009.0,645.1h1M965.0,680.5h1M900.8,685.7h1M902.7,972.7h1M1107.2,403.6h1M890.6,762.2h1M1004.6,410.7h1M1025.3,469.2h1M990.8,691.2h1M926.0,514.0h1M986.7,484.7h1M880.1,554.5h1M858.6,779.4h1M956.7,1128.8h1M1024.8,1111.5h1M890.0,1048.7h1M908.1,1018.2h1M896.6,1052.4h1M960.1,570.9h1M955.4,807.1h1M915.4,496.0h1M1007.8,431.4h1M854.2,995.9h1M877.5,1059.5h1M1004.2,871.4h1M932.7,893.1h1M1013.7,730.0h1M1036.0,734.5h1M971.4,751.1h1M1024.3,417.4h1M911.9,784.7h1M895.6,760.1h1M874.4,771.9h1M969.2,500.2h1M972.5,471.3h1M854.9,801.0h1M867.1,900.5h1M858.9,802.0h1M953.7,796.1h1M882.9,1148.3h1M891.4,1120.8h1M945.8,450.6h1M889.5,994.9h1M923.6,1105.5h1M885.1,1041.7h1M920.0,563.2h1M936.5,797.7h1M896.4,428.0h1M1073.0,532.0h1M998.5,489.7h1M948.4,900.4h1M1005.7,1086.9h1M958.5,895.3h1M920.6,1027.6h1M1012.2,1179.5h1M894.8,747.5h1M857.1,985.0h1M917.3,1045.0h1M843.5,645.4h1M886.8,425.6h1M969.6,884.4h1M909.6,503.0h1M849.5,913.6h1M947.0,401.1h1M947.6,482.8h1M1014.0,575.7h1M902.8,863.2h1M982.1,890.7h1M886.7,590.9h1M1030.0,474.5h1M920.4,715.7h1M1032.0,408.1h1M945.6,842.1h1M973.0,907.7h1M1057.9,1137.5h1M998.7,433.7h1M912.6,718.9h1M1071.2,445.0h1M1004.4,408.7h1M884.7,1140.4h1M1021.2,556.2h1M1031.0,798.5h1M894.2,1039.9h1M931.0,642.8h1M1103.6,437.2h1M1090.4,404.0h1M979.3,986.2h1M975.6,983.5h1M873.8,577.0h1M854.4,582.0h1M920.9,959.8h1M970.8,835.4h1M996.3,1020.3h1M1031.1,608.1h1M906.6,1159.5h1M847.5,1092.5h1M912.2,604.2h1M938.8,987.0h1M939.3,1092.6h1M933.2,848.4h1M1025.4,566.0h1M1109.9,460.3h1M850.9,512.9h1M884.6,670.8h1M855.2,421.6h1M1028.7,944.8h1M1016.0,450.8h1M1097.3,451.0h1M903.3,483.4h1M853.1,487.2h1M927.2,896.7h1M871.7,477.7h1M903.1,995.8h1M967.2,650.5h1M918.2,415.5h1M1052.7,621.7h1M937.0,689.0h1M990.6,1158.6h1M1024.2,1069.9h1M964.0,423.4h1M1049.5,672.3h1M906.5,822.8h1M869.6,1078.4h1M892.9,1045.0h1M902.2,400.0h1M986.8,402.4h1M987.9,544.4h1M905.9,622.6h1M989.0,950.2h1M1029.5,485.6h1M1073.9,462.7h1M947.2,893.8h1M958.6,715.2h1M868.2,1100.6h1M850.4,1099.1h1M920.1,561.4h1M989.8,1109.2h1M978.0,583.1h1M1032.4,992.4h1M938.7,673.6h1M1090.0,521.4h1M971.6,532.6h1M1012.7,1008.5h1M978.4,498.3h1M912.7,1096.5h1M931.3,550.0h1M888.7,520.8h1M938.7,594.1h1M890.2,810.5h1M898.5,657.5h1M1056.5,1167.4h1M955.6,479.1h1M970.4,976.8h1M1029.9,553.6h1M903.5,483.2h1M852.9,705.0h1M989.6,945.4h1M978.7,897.3h1M1019.9,510.7h1M969.0,1114.5h1M910.0,730.9h1M1042.1,1070.7h1M976.0,904.5h1M1027.1,645.7h1M965.9,476.1h1M916.3,895.1h1M976.4,732.8h1M962.9,888.8h1M1034.8,543.3h1M956.9,1012.2h1M1002.2,429.1h1M1072.1,525.7h1M995.1,1140.2h1M1011.3,478.7h1M1030.3,802.6h1M995.9,1052.2h1M1043.5,564.6h1M859.6,679.1h1M960.1,615.2h1M965.6,409.5h1M920.7,676.5h1M1060.3,575.8h1M997.4,1139.7h1M1077.8,571.5h1M905.1,707.9h1M1070.5,500.9h1M1028.8,1036.9h1M1007.7,768.7h1M1030.2,677.3h1M929.2,767.9h1M879.7,831.0h1M946.9,1056.0h1M921.4,1069.3h1M917.3,695.4h1M897.5,734.8h1M1054.5,401.1h1M914.8,620.6h1M983.5,636.8h1M1029.7,736.7h1M949.2,918.5h1M1085.6,444.0h1M1086.6,509.6h1M847.4,897.9h1M1121.9,408.0h1M916.3,915.9h1M884.8,479.0h1M1070.5,583.1h1M887.7,672.0h1M1046.0,554.5h1M920.5,836.4h1M883.8,583.5h1M860.1,787.5h1M885.3,767.1h1M989.0,786.2h1M1089.3,404.2h1M1007.8,767.8h1M965.7,694.5h1M865.1,1156.0h1M1029.4,901.0h1M1021.6,421.5h1M985.0,801.4h1M852.9,1106.3h1M1026.2,964.9h1M982.0,687.5h1M970.5,565.1h1M1005.3,731.8h1M928.8,1050.5h1M961.3,1051.3h1M922.6,796.0h1M935.9,659.7h1M1014.8,634.8h1M1054.7,430.6h1M1002.8,1096.9h1M931.0,438.2h1M898.7,403.9h1M1021.3,1125.1h1M1022.2,1115.9h1M1026.7,885.0h1M1017.7,947.8h1M905.3,935.6h1M977.2,924.6h1M872.7,1000.0h1M853.8,541.9h1M951.1,915.7h1M918.6,841.9h1M966.6,637.0h1M969.2,650.0h1M1009.3,442.0h1M877.8,430.0h1M1011.6,1037.5h1M973.8,1122.9h1M956.4,410.1h1M982.3,1171.9h1M872.9,724.0h1M905.2,906.9h1M847.6,518.6h1M1043.3,402.8h1M1097.8,468.5h1M848.2,500.6h1M914.0,965.8h1M897.9,977.0h1M1069.8,438.5h1M867.7,974.0h1M846.3,964.2h1M1033.7,410.6h1M866.3,1043.1h1M1056.7,644.1h1M860.5,782.2h1M1011.5,688.6h1M1041.3,744.7h1M1076.6,513.2h1M1032.0,685.3h1M965.5,895.2h1M928.7,845.7h1M1020.5,660.6h1M933.4,872.7h1M1043.7,695.8h1M926.0,1035.3h1M920.1,400.3h1M1014.9,731.9h1M1087.1,432.3h1M923.2,849.7h1M867.9,672.3h1M1062.8,556.9h1M911.6,1133.2h1M903.5,765.7h1M1063.1,599.7h1M977.7,1022.8h1M1079.3,468.1h1M911.2,1007.5h1M995.9,1096.5h1M1015.7,774.5h1M899.3,548.1h1M1048.4,541.4h1M1008.4,684.9h1M994.5,716.2h1M856.1,516.4h1M952.6,1184.7h1M1028.4,482.6h1M888.8,1019.4h1M944.1,869.6h1M849.0,808.3h1M985.5,1081.5h1M919.6,845.9h1M967.8,1013.0h1M1067.8,1144.8h1M854.1,599.1h1M896.0,557.4h1M857.9,464.9h1M861.8,1116.0h1M959.4,870.3h1M1008.4,601.7h1M958.2,926.7h1M889.8,752.3h1M854.3,573.7h1M946.1,600.6h1M856.8,1058.7h1M885.4,442.9h1M930.5,932.4h1M937.9,482.1h1M879.4,601.5h1M892.4,778.3h1M884.9,586.9h1M846.7,933.0h1M900.2,964.2h1M1114.8,427.4h1M974.0,509.1h1M1027.1,1062.7h1M942.6,755.4h1M982.9,1047.6h1M884.8,894.0h1M859.6,573.7h1M1005.1,961.4h1M963.7,608.9h1M922.4,521.7h1M941.0,1060.6h1M986.9,531.2h1M1105.2,443.8h1M904.9,925.6h1M926.9,775.2h1M902.1,602.1h1M927.8,475.9h1M859.8,1105.2h1M929.0,971.5h1M847.7,1170.2h1M942.9,1034.9h1M843.6,509.4h1M997.3,1054.8h1M970.5,545.4h1M907.0,1117.6h1M883.5,849.2h1M1068.7,540.9h1M900.6,959.8h1M868.6,461.5h1M988.2,878.5h1M903.4,614.8h1M1013.8,1038.5h1M862.2,558.4h1M962.6,976.4h1M859.2,967.7h1M941.2,1037.8h1M847.5,787.5h1M982.6,1116.3h1M921.0,1086.1h1M890.9,688.3h1M1017.3,691.5h1M995.3,402.7h1M994.1,750.3h1M1052.4,494.2h1M1051.4,651.9h1M1098.7,447.2h1M988.0,1150.8h1M998.4,803.5h1M849.1,822.4h1M908.5,1161.3h1M873.1,542.7h1M871.3,422.7h1M900.2,949.8h1M1018.6,412.9h1M996.2,853.3h1M873.1,952.7h1M879.1,434.6h1M989.7,788.0h1M878.8,619.3h1M883.1,718.7h1M1010.8,515.0h1M891.1,987.3h1M966.2,705.3h1M997.0,1060.7h1M942.2,1011.2h1M941.2,588.4h1M994.6,441.2h1M966.7,595.4h1M949.8,897.6h1M863.3,817.3h1M990.9,740.2h1M883.8,415.4h1M1070.5,1163.1h1M1028.5,1137.3h1M853.1,1096.1h1M920.9,904.6h1M923.1,933.6h1M916.4,888.6h1M970.1,809.0h1M927.2,1148.3h1M1032.7,639.7h1M1017.1,493.9h1M993.5,1152.4h1M979.7,610.5h1M886.5,819.7h1M881.5,496.6h1M962.1,630.4h1M914.3,626.2h1M1003.1,468.2h1M1021.7,1060.7h1M1033.6,848.3h1M1051.1,557.5h1M1003.6,762.2h1M980.4,881.9h1M914.0,643.7h1M993.1,573.6h1M1014.6,700.9h1M946.3,408.4h1M912.9,1078.1h1M987.0,837.6h1M862.6,524.0h1M971.9,1085.6h1M956.7,447.9h1M909.0,485.1h1M1059.4,1154.9h1M941.7,520.8h1M1040.9,676.7h1M994.7,1046.1h1M982.2,997.6h1M880.3,1119.8h1M844.3,1085.2h1M1014.6,1002.4h1M965.4,849.7h1M954.2,877.6h1M977.2,755.4h1M928.8,968.8h1M1005.7,706.9h1M937.3,702.0h1M973.1,792.6h1M932.1,544.2h1M1011.6,513.3h1M868.8,857.3h1M937.9,1124.1h1M902.9,1154.5h1M856.9,407.4h1M988.7,844.2h1M994.6,806.7h1M957.1,939.0h1M1017.3,680.9h1M996.9,932.1h1M952.7,477.0h1M1007.5,714.9h1M985.6,1159.0h1M1026.0,745.8h1M943.6,1183.9h1M936.2,533.5h1M875.4,802.9h1M1045.1,1103.9h1M966.3,1098.9h1M927.9,522.2h1M990.9,802.1h1M896.4,547.2h1M1019.7,895.5h1M855.4,900.6h1M1045.4,640.7h1M932.2,402.1h1M1014.8,1062.6h1M900.6,925.5h1M1005.1,791.3h1M1032.5,608.6h1M963.5,851.7h1M888.9,494.7h1M874.2,997.5h1M893.0,477.9h1M846.7,447.9h1M937.6,1006.2h1M946.7,962.8h1M921.1,532.5h1M1107.8,477.4h1M945.2,857.8h1M956.0,753.5h1M1103.9,442.1h1M1024.7,745.4h1M855.9,595.5h1M932.0,1041.9h1M957.2,590.4h1M907.9,965.2h1M893.8,590.8h1M897.7,681.4h1M928.2,1164.6h1M876.7,841.5h1M956.0,819.6h1M862.2,716.7h1M1085.0,496.2h1M914.8,675.8h1M926.1,549.7h1M853.2,585.9h1M943.0,922.4h1M1049.8,521.8h1M922.0,472.0h1M880.4,1057.0h1M889.7,1033.3h1M1054.7,677.1h1M909.6,796.8h1M881.4,755.7h1M919.4,955.7h1M1015.2,1107.9h1M915.2,689.0h1M905.3,878.3h1M879.0,1086.4h1M1002.0,803.3h1M1069.1,612.1h1M1035.7,702.2h1M934.1,846.3h1M868.2,706.3h1M1037.2,652.0h1M1007.7,484.9h1M989.6,683.8h1M862.3,633.0h1M909.3,644.3h1M1053.0,498.4h1M961.2,621.5h1M924.0,503.1h1M1042.1,422.3h1M946.0,921.9h1M1036.1,724.1h1M915.8,950.0h1M946.2,1066.2h1M896.2,894.5h1M854.7,430.9h1M901.0,526.7h1M954.6,637.8h1M934.1,429.9h1M895.6,902.0h1M1010.1,1060.5h1M917.6,963.7h1M1043.5,741.7h1M843.3,674.0h1M855.6,624.6h1M1021.0,1072.1h1M914.6,436.3h1M1074.9,486.6h1M868.2,989.6h1M958.3,946.4h1M869.4,620.6h1M967.2,1144.7h1M1045.6,1132.0h1M975.7,893.9h1M1047.6,441.8h1M993.0,736.5h1M880.4,1130.4h1M855.8,999.4h1M1003.1,604.8h1M1029.8,1162.9h1M916.2,827.6h1M947.8,445.8h1M902.0,723.4h1M883.0,643.7h1M913.8,586.4h1M973.4,805.1h1M946.0,1136.4h1M1008.0,510.8h1M1038.3,532.3h1M978.1,870.8h1M927.8,489.2h1M903.5,683.1h1M925.3,446.5h1M1048.6,554.3h1M876.1,752.0h1M980.3,654.7h1M892.3,685.0h1M846.2,455.6h1M1053.1,465.2h1M1008.2,1171.4h1M986.2,484.7h1M898.6,741.2h1M845.4,826.9h1M1031.8,1123.6h1M916.7,913.3h1M883.6,592.8h1M1069.9,420.8h1M929.8,1060.6h1M1030.0,545.4h1M1072.9,531.7h1M897.1,656.4h1M936.8,1049.4h1M1004.5,689.4h1M855.1,587.6h1M1027.1,845.7h1M989.4,788.6h1M930.8,523.1h1M866.5,856.9h1M890.9,941.1h1M854.7,469.7h1M898.9,745.3h1M843.8,968.7h1M967.7,1019.1h1M1036.9,622.2h1M966.4,804.5h1M971.5,665.9h1M891.2,1111.4h1M972.8,632.0h1M945.0,842.9h1M867.9,553.0h1M977.9,654.1h1M1024.6,1156.9h1M860.6,1038.2h1M1021.5,932.0h1M1010.3,633.1h1M983.9,1149.8h1M930.7,909.1h1M898.3,420.9h1M974.1,933.8h1M1036.5,466.1h1M1013.2,692.1h1M998.3,727.1h1M959.1,844.1h1M895.9,489.0h1M1003.6,1100.3h1M1095.6,487.5h1M870.8,598.7h1M916.7,817.3h1M1005.3,784.6h1M1010.8,577.5h1M993.4,488.1h1M866.5,862.7h1M864.5,720.5h1M876.6,995.4h1M1086.3,479.4h1M893.2,707.9h1M1008.0,1155.5h1M883.1,1009.7h1M859.9,1010.6h1M952.1,585.7h1M1017.1,411.0h1M930.9,566.9h1M967.8,956.5h1M1025.0,1099.2h1M1007.9,1086.2h1M1061.4,531.4h1M952.3,495.7h1M855.7,967.8h1M872.2,874.8h1M917.6,931.1h1M973.9,551.2h1M1013.3,1059.5h1M849.1,488.5h1M1077.6,486.0h1M1005.4,545.0h1M1044.3,627.5h1M885.3,699.1h1M1000.8,1088.8h1M847.0,1146.6h1M887.2,668.8h1M853.4,1029.8h1M1082.8,542.6h1M958.0,934.5h1M889.4,773.9h1M958.3,1064.9h1M1022.0,1086.9h1M939.5,458.8h1M855.8,863.3h1M948.8,532.7h1M1012.1,767.6h1M946.6,704.7h1M1012.7,403.7h1M849.0,662.0h1M885.7,434.8h1M922.9,927.7h1M989.5,614.4h1M1009.7,605.5h1M853.0,1180.8h1M1028.9,897.9h1M925.5,685.0h1M1042.6,1138.7h1M992.1,981.8h1M945.7,899.5h1M961.9,833.0h1M941.8,446.6h1M950.6,778.4h1M911.8,590.8h1M882.7,674.2h1M1098.2,404.7h1M973.5,756.1h1M931.6,847.2h1M862.4,532.1h1M933.4,636.6h1M1004.5,971.6h1M942.8,1137.7h1M1013.9,1124.9h1M895.4,462.1h1M985.0,452.4h1M923.8,1107.5h1M849.8,601.9h1M921.5,528.7h1M907.0,954.1h1M901.7,713.9h1M900.6,909.7h1M866.2,872.6h1M883.0,667.8h1M1000.3,547.3h1M1030.5,1088.8h1M905.2,1126.2h1M961.8,910.4h1M942.0,934.0h1" stroke="#a9adba" stroke-width="1" stroke-linecap="butt"/>
<path d="M869.6,416.9L868.6,420.0L872.3,420.3ZM865.3,462.7L864.3,465.8L868.0,466.1ZM861.0,508.5L860.0,511.6L863.7,511.9ZM856.7,554.3L855.7,557.4L859.4,557.7ZM852.4,600.1L851.4,603.2L855.1,603.5ZM848.1,645.9L847.1,649.0L850.8,649.3ZM843.8,691.7L842.8,694.8L846.5,695.1ZM918.6,408.0L917.6,411.1L921.3,411.4ZM914.3,453.8L913.3,456.9L917.0,457.2ZM910.0,499.6L909.0,502.7L912.7,503.0ZM905.7,545.4L904.7,548.5L908.4,548.8ZM901.4,591.2L900.4,594.3L904.1,594.6ZM897.1,637.0L896.1,640.1L899.8,640.4ZM892.8,682.8L891.8,685.9L895.5,686.2ZM888.5,728.6L887.5,731.7L891.2,732.0ZM884.2,774.4L883.2,777.5L886.9,777.8ZM879.9,820.2L878.9,823.3L882.6,823.6ZM875.6,866.0L874.6,869.1L878.3,869.4ZM871.3,911.8L870.3,914.9L874.0,915.2ZM867.0,957.6L866.0,960.7L869.7,961.0ZM862.7,1003.4L861.7,1006.5L865.4,1006.8ZM858.4,1049.2L857.4,1052.3L861.1,1052.6ZM854.1,1095.0L853.1,1098.1L856.8,1098.4ZM849.8,1140.8L848.8,1143.9L852.5,1144.2ZM967.6,399.1L966.6,402.2L970.3,402.5ZM963.3,444.9L962.3,448.0L966.0,448.3ZM959.0,490.7L958.0,493.8L961.7,494.1ZM954.7,536.5L953.7,539.6L957.4,539.9ZM950.4,582.3L949.4,585.4L953.1,585.7ZM946.1,628.1L945.1,631.2L948.8,631.5ZM941.8,673.9L940.8,677.0L944.5,677.3ZM937.5,719.7L936.5,722.8L940.2,723.1ZM933.2,765.5L932.2,768.6L935.9,768.9ZM928.9,811.3L927.9,814.4L931.6,814.7ZM924.6,857.1L923.6,860.2L927.3,860.5ZM920.3,902.9L919.3,906.0L923.0,906.3ZM916.0,948.7L915.0,951.8L918.7,952.1ZM911.7,994.5L910.7,997.6L914.4,997.9ZM907.4,1040.3L906.4,1043.4L910.1,1043.7ZM903.1,1086.1L902.1,1089.2L905.8,1089.5ZM898.8,1131.9L897.8,1135.0L901.5,1135.3ZM894.5,1177.7L893.5,1180.8L897.2,1181.1ZM1012.3,436.0L1011.3,439.1L1015.0,439.4ZM1008.0,481.8L1007.0,484.9L1010.7,485.2ZM1003.7,527.6L1002.7,530.7L1006.4,531.0ZM999.4,573.4L998.4,576.5L1002.1,576.8ZM995.1,619.2L994.1,622.3L997.8,622.6ZM990.8,665.0L989.8,668.1L993.5,668.4ZM986.5,710.8L985.5,713.9L989.2,714.2ZM982.2,756.6L981.2,759.7L984.9,760.0ZM977.9,802.4L976.9,805.5L980.6,805.8ZM973.6,848.2L972.6,851.3L976.3,851.6ZM969.3,894.0L968.3,897.1L972.0,897.4ZM965.0,939.8L964.0,942.9L967.7,943.2ZM960.7,985.6L959.7,988.7L963.4,989.0ZM956.4,1031.4L955.4,1034.5L959.1,1034.8ZM952.1,1077.2L951.1,1080.3L954.8,1080.6ZM947.8,1123.0L946.8,1126.1L950.5,1126.4ZM943.5,1168.8L942.5,1171.9L946.2,1172.2ZM1061.3,427.1L1060.3,430.2L1064.0,430.5ZM1057.0,472.9L1056.0,476.0L1059.7,476.3ZM1052.7,518.7L1051.7,521.8L1055.4,522.1ZM1048.4,564.5L1047.4,567.6L1051.1,567.9ZM1044.1,610.3L1043.1,613.4L1046.8,613.7ZM1039.8,656.1L1038.8,659.2L1042.5,659.5ZM1035.5,701.9L1034.5,705.0L1038.2,705.3ZM1031.2,747.7L1030.2,750.8L1033.9,751.1ZM1026.9,793.5L1025.9,796.6L1029.6,796.9ZM1022.6,839.3L1021.6,842.4L1025.3,842.7ZM1018.3,885.1L1017.3,888.2L1021.0,888.5ZM1014.0,930.9L1013.0,934.0L1016.7,934.3ZM1009.7,976.7L1008.7,979.8L1012.4,980.1ZM1005.4,1022.5L1004.4,1025.6L1008.1,1025.9ZM1001.1,1068.3L1000.1,1071.4L1003.8,1071.7ZM996.8,1114.1L995.8,1117.2L999.5,1117.5ZM992.5,1159.9L991.5,1163.0L995.2,1163.3ZM1110.3,418.2L1109.3,421.3L1113.0,421.6ZM1106.0,464.0L1105.0,467.1L1108.7,467.4ZM1050.1,1059.4L1049.1,1062.5L1052.8,1062.8ZM1045.8,1105.2L1044.8,1108.3L1048.5,1108.6ZM1041.5,1151.0L1040.5,1154.1L1044.2,1154.4ZM881.7,425.7L879.6,428.2L883.0,430.0ZM855.0,463.4L852.8,465.9L856.2,467.6ZM956.0,403.9L953.8,406.4L957.2,408.2ZM929.2,441.6L927.1,444.1L930.5,445.8ZM902.5,479.2L900.3,481.7L903.7,483.5ZM875.7,516.9L873.6,519.4L877.0,521.1ZM849.0,554.5L846.8,557.0L850.2,558.8ZM1003.5,419.8L1001.3,422.3L1004.7,424.0ZM976.7,457.4L974.6,459.9L978.0,461.7ZM950.0,495.1L947.8,497.6L951.2,499.3ZM923.2,532.7L921.1,535.2L924.5,537.0ZM896.5,570.4L894.3,572.9L897.7,574.6ZM869.7,608.0L867.6,610.5L871.0,612.3ZM843.0,645.7L840.8,648.2L844.2,649.9ZM1077.7,398.0L1075.6,400.5L1079.0,402.2ZM1051.0,435.6L1048.8,438.1L1052.2,439.9ZM1024.2,473.3L1022.1,475.8L1025.5,477.5ZM997.5,510.9L995.3,513.4L998.7,515.2ZM970.7,548.6L968.6,551.1L972.0,552.8ZM944.0,586.2L941.8,588.7L945.2,590.5ZM917.2,623.9L915.1,626.4L918.5,628.1ZM890.5,661.5L888.3,664.0L891.7,665.8ZM863.7,699.2L861.6,701.7L865.0,703.4ZM1125.2,413.8L1123.1,416.3L1126.5,418.1ZM1098.5,451.5L1096.3,454.0L1099.7,455.7ZM1071.7,489.1L1069.6,491.6L1073.0,493.4ZM1045.0,526.8L1042.8,529.3L1046.2,531.0ZM1018.2,564.4L1016.1,566.9L1019.5,568.7ZM991.5,602.1L989.3,604.6L992.7,606.3ZM964.7,639.7L962.6,642.2L966.0,644.0ZM938.0,677.4L935.8,679.9L939.2,681.6ZM911.2,715.0L909.1,717.5L912.5,719.3ZM884.5,752.7L882.3,755.2L885.7,756.9ZM857.7,790.3L855.6,792.8L859.0,794.6ZM1065.7,580.3L1063.6,582.8L1067.0,584.5ZM1039.0,617.9L1036.8,620.4L1040.2,622.2ZM1012.2,655.6L1010.1,658.1L1013.5,659.8ZM985.5,693.2L983.3,695.7L986.7,697.5ZM958.7,730.9L956.6,733.4L960.0,735.1ZM932.0,768.5L929.8,771.0L933.2,772.8ZM905.2,806.2L903.1,808.7L906.5,810.4ZM878.5,843.8L876.3,846.3L879.7,848.1ZM851.7,881.5L849.6,884.0L853.0,885.7ZM1059.7,671.4L1057.6,673.9L1061.0,675.7ZM1033.0,709.1L1030.8,711.6L1034.2,713.3ZM1006.2,746.7L1004.1,749.2L1007.5,751.0ZM979.5,784.4L977.3,786.9L980.7,788.6ZM952.7,822.0L950.6,824.5L954.0,826.3ZM926.0,859.7L923.8,862.2L927.2,863.9ZM899.2,897.3L897.1,899.8L900.5,901.6ZM872.5,935.0L870.3,937.5L873.7,939.2ZM845.7,972.6L843.6,975.1L847.0,976.9ZM1027.0,800.2L1024.8,802.7L1028.2,804.5ZM1000.2,837.9L998.1,840.4L1001.5,842.1ZM973.5,875.5L971.3,878.0L974.7,879.8ZM946.7,913.2L944.6,915.7L948.0,917.4ZM920.0,950.8L917.8,953.3L921.2,955.1ZM893.2,988.5L891.1,991.0L894.5,992.7ZM866.5,1026.1L864.3,1028.6L867.7,1030.4ZM1021.0,891.4L1018.8,893.9L1022.2,895.6ZM994.2,929.0L992.1,931.5L995.5,933.3ZM967.5,966.7L965.3,969.2L968.7,970.9ZM940.7,1004.3L938.6,1006.8L942.0,1008.6ZM914.0,1042.0L911.8,1044.5L915.2,1046.2ZM887.2,1079.6L885.1,1082.1L888.5,1083.9ZM860.5,1117.3L858.3,1119.8L861.7,1121.5ZM1015.0,982.5L1012.8,985.0L1016.2,986.8ZM988.2,1020.2L986.1,1022.7L989.5,1024.4ZM961.5,1057.8L959.3,1060.3L962.7,1062.1ZM934.7,1095.5L932.6,1098.0L936.0,1099.7ZM908.0,1133.1L905.8,1135.6L909.2,1137.4ZM881.2,1170.8L879.1,1173.3L882.5,1175.0ZM1035.7,1036.0L1033.6,1038.5L1037.0,1040.3ZM1009.0,1073.7L1006.8,1076.2L1010.2,1077.9ZM982.2,1111.3L980.1,1113.8L983.5,1115.6ZM955.5,1149.0L953.3,1151.5L956.7,1153.2ZM928.7,1186.6L926.6,1189.1L930.0,1190.9ZM1056.5,1089.5L1054.3,1092.0L1057.7,1093.8ZM1029.7,1127.2L1027.6,1129.7L1031.0,1131.4ZM1003.0,1164.8L1000.8,1167.3L1004.2,1169.1Z" stroke="#5f6372" stroke-width="0.8" fill="#5f6372" fill-opacity="0.8"/>
<path d="M856.2,405.6L855.4,411.1L861.8,410.6ZM845.0,473.6L844.1,479.1L850.6,478.6ZM930.4,397.5L929.5,403.0L935.9,402.6ZM919.1,465.5L918.2,471.0L924.7,470.6ZM908.0,533.5L907.1,539.0L913.5,538.6ZM896.8,601.5L895.9,607.0L902.3,606.6ZM885.6,669.5L884.7,675.0L891.1,674.6ZM874.4,737.5L873.5,743.0L879.9,742.6ZM863.2,805.5L862.3,811.0L868.7,810.6ZM852.0,873.5L851.1,879.0L857.5,878.6ZM840.8,941.5L839.9,947.0L846.3,946.6ZM993.2,457.4L992.4,463.0L998.8,462.5ZM982.1,525.4L981.2,531.0L987.6,530.5ZM970.9,593.4L970.0,599.0L976.4,598.5ZM959.7,661.4L958.8,667.0L965.2,666.5ZM948.5,729.4L947.6,735.0L954.0,734.5ZM937.2,797.4L936.4,803.0L942.8,802.5ZM926.1,865.4L925.2,871.0L931.6,870.5ZM914.9,933.4L914.0,939.0L920.4,938.5ZM903.7,1001.4L902.8,1007.0L909.2,1006.5ZM892.5,1069.4L891.6,1075.0L898.0,1074.5ZM881.2,1137.4L880.4,1143.0L886.8,1142.5ZM1067.3,449.4L1066.4,454.9L1072.9,454.5ZM1056.1,517.4L1055.2,522.9L1061.7,522.5ZM1045.0,585.4L1044.0,590.9L1050.5,590.5ZM1033.8,653.4L1032.8,658.9L1039.3,658.5ZM1022.5,721.4L1021.6,726.9L1028.1,726.5ZM1011.3,789.4L1010.4,794.9L1016.9,794.5ZM1000.1,857.4L999.2,862.9L1005.7,862.5ZM988.9,925.4L988.0,930.9L994.5,930.5ZM977.8,993.4L976.9,998.9L983.3,998.5ZM966.5,1061.4L965.6,1067.0L972.1,1066.5ZM955.3,1129.4L954.4,1135.0L960.9,1134.5ZM1040.7,1053.3L1039.8,1058.9L1046.2,1058.5ZM1029.5,1121.3L1028.5,1126.9L1035.0,1126.5Z" stroke="#5f6372" stroke-width="1.1" fill="none"/>
<line x1="76.2" y1="1256.2" x2="131.5" y2="1256.7" stroke-width="1" stroke="#7a7d88"/>
<line x1="139.3" y1="1256.8" x2="147.0" y2="1256.8" stroke-width="1" stroke="#7a7d88"/>
<line x1="154.7" y1="1256.9" x2="199.2" y2="1257.3" stroke-width="1" stroke="#7a7d88"/>
<line x1="205.0" y1="1257.4" x2="224.4" y2="1257.5" stroke-width="1" stroke="#7a7d88"/>
<line x1="230.2" y1="1257.6" x2="288.2" y2="1258.1" stroke-width="1" stroke="#7a7d88"/>
<line x1="292.1" y1="1258.1" x2="301.7" y2="1258.2" stroke-width="1" stroke="#7a7d88"/>
<line x1="362.5" y1="1258.8" x2="369.4" y2="1258.8" stroke-width="1" stroke="#7a7d88"/>
<line x1="377.2" y1="1258.9" x2="425.5" y2="1259.3" stroke-width="1" stroke="#7a7d88"/>
<line x1="435.2" y1="1259.4" x2="444.9" y2="1259.5" stroke-width="1" stroke="#7a7d88"/>
<line x1="452.6" y1="1259.6" x2="508.7" y2="1260.1" stroke-width="1" stroke="#7a7d88"/>
<line x1="307.5" y1="1258.3" x2="350.1" y2="1258.7" stroke-width="1.8" stroke="#9fb0c8"/>
<line x1="76.2" y1="1256.2" x2="73.5" y2="1684.6" stroke-width="1" stroke="#7a7d88"/>
<line x1="508.7" y1="1260.1" x2="508.6" y2="1315.4" stroke-width="1.1" stroke="#7a7d88"/>
<line x1="508.6" y1="1323.9" x2="508.6" y2="1332.5" stroke-width="1.1" stroke="#7a7d88"/>
<line x1="508.6" y1="1341.0" x2="508.4" y2="1413.3" stroke-width="1.1" stroke="#7a7d88"/>
<line x1="508.4" y1="1421.8" x2="508.4" y2="1430.3" stroke-width="1.1" stroke="#7a7d88"/>
<line x1="508.4" y1="1438.9" x2="508.3" y2="1494.2" stroke-width="1.1" stroke="#7a7d88"/>
<line x1="508.3" y1="1502.7" x2="508.3" y2="1509.1" stroke-width="1.1" stroke="#7a7d88"/>
<line x1="508.3" y1="1515.5" x2="508.2" y2="1583.6" stroke-width="1.1" stroke="#7a7d88"/>
<line x1="508.2" y1="1592.1" x2="508.1" y2="1600.6" stroke-width="1.1" stroke="#7a7d88"/>
<line x1="508.1" y1="1609.1" x2="508.0" y2="1685.7" stroke-width="1.1" stroke="#7a7d88"/>
<line x1="73.5" y1="1684.6" x2="117.0" y2="1684.7" stroke-width="1.1" stroke="#7a7d88"/>
<line x1="123.5" y1="1684.7" x2="127.8" y2="1684.7" stroke-width="1.1" stroke="#7a7d88"/>
<line x1="134.3" y1="1684.8" x2="195.2" y2="1684.9" stroke-width="1.1" stroke="#7a7d88"/>
<line x1="201.7" y1="1684.9" x2="206.0" y2="1684.9" stroke-width="1.1" stroke="#7a7d88"/>
<line x1="212.5" y1="1685.0" x2="277.7" y2="1685.1" stroke-width="1.1" stroke="#7a7d88"/>
<line x1="284.2" y1="1685.1" x2="288.6" y2="1685.1" stroke-width="1.1" stroke="#7a7d88"/>
<line x1="295.1" y1="1685.2" x2="360.3" y2="1685.3" stroke-width="1.1" stroke="#7a7d88"/>
<line x1="366.8" y1="1685.3" x2="371.1" y2="1685.4" stroke-width="1.1" stroke="#7a7d88"/>
<line x1="377.6" y1="1685.4" x2="442.8" y2="1685.5" stroke-width="1.1" stroke="#7a7d88"/>
<line x1="449.3" y1="1685.6" x2="453.7" y2="1685.6" stroke-width="1.1" stroke="#7a7d88"/>
<line x1="460.2" y1="1685.6" x2="508.0" y2="1685.7" stroke-width="1.1" stroke="#7a7d88"/>
<path d="M149.7,1299.2 C156.0,1313.5 177.8,1357.6 187.7,1384.7 C197.6,1411.8 203.8,1436.3 208.9,1462.1 C214.1,1487.9 217.6,1513.7 218.6,1539.5 C219.6,1565.3 216.6,1598.0 214.7,1616.8 C212.8,1635.5 208.3,1646.1 207,1652" stroke-width="1" fill="none" stroke="#7a7d88"/>
<path d="M415.9,1301.9 C410.1,1314.4 390.8,1352.9 381.1,1377 C371.4,1401.1 364.0,1422.8 357.9,1446.6 C351.8,1470.4 346.6,1498.2 344.3,1520.1 C342.0,1542.0 342.4,1556.0 344.3,1578.2 C346.2,1600.5 354.1,1641.0 356,1653.6" stroke-width="1" fill="none" stroke="#7a7d88"/>
<path d="M149.7,1299.2 Q285,1280 415.9,1301.9" stroke-width="1" fill="none" stroke="#7a7d88"/>
<line x1="207" y1="1652" x2="356" y2="1653.6" stroke-width="1" stroke="#7a7d88" stroke-dasharray="22 3 40 2 14 3"/>
<line x1="185.7" y1="1383.9" x2="197.3" y2="1383.9" stroke-width="0.9" stroke="#7a7d88"/>
<rect x="258.6" y="1326.8" width="46.8" height="275.5" stroke-width="1" fill="none" rx="23.4" stroke="#7a7d88"/>
<circle cx="281.9" cy="1379.5" r="2.6" stroke-width="0.9" stroke="#7a7d88"/>
<circle cx="281.9" cy="1411.7" r="2.6" stroke-width="0.9" stroke="#7a7d88"/>
<path d="M279,1443.5 L280.6,1437.6 L282.2,1443.5 M274.5,1461.6 V1445.6 Q274.5,1443.5 276.5,1443.5 H285.4 Q287.4,1443.5 287.4,1445.6 V1461.6" stroke-width="0.9" fill="none" stroke="#7a7d88"/>
<path d="M266.9,1461.2 H293 V1503.6 H266.9 Z" stroke-width="1" fill="none" stroke="#4d5160"/>
<path d="M269.3,1463.1 V1501.6 M290.6,1463.1 V1501.6" stroke-width="1.6" fill="none" stroke="#4d5160" stroke-dasharray="3 1.5"/>
<path d="M272,1464.6 H288 M272,1464.6 V1475.6 M288,1464.6 V1475.6 M279,1459.6 V1473.6 M282.5,1459.6 V1473.6 M279,1459.6 H282.5" stroke-width="0.9" fill="none" stroke="#4d5160"/>
<path d="M271.5,1474.6 H289 M272.5,1477.1 H288" stroke-width="1.8" fill="none" stroke="#4d5160"/>
<path d="M275.5,1478.6 V1491.6 M277.3,1478.6 V1491.6 M284,1478.6 V1491.6 M285.8,1478.6 V1491.6" stroke-width="0.9" fill="none" stroke="#4d5160"/>
<path d="M269.5,1491.6 H290.5" stroke-width="0.8" fill="none" stroke="#4d5160"/>
<path d="M279,1588.7 L280.6,1594.6 L282.2,1588.7 M274.5,1570.6 V1586.6 Q274.5,1588.7 276.5,1588.7 H285.4 Q287.4,1588.7 287.4,1586.6 V1570.6" stroke-width="0.9" fill="none" stroke="#7a7d88"/>
<path d="M266.9,1571.0 H293 V1528.6 H266.9 Z" stroke-width="1" fill="none" stroke="#4d5160"/>
<path d="M269.3,1569.1 V1530.6 M290.6,1569.1 V1530.6" stroke-width="1.6" fill="none" stroke="#4d5160" stroke-dasharray="3 1.5"/>
<path d="M272,1567.6 H288 M272,1567.6 V1556.6 M288,1567.6 V1556.6 M279,1572.6 V1558.6 M282.5,1572.6 V1558.6 M279,1572.6 H282.5" stroke-width="0.9" fill="none" stroke="#4d5160"/>
<path d="M271.5,1557.6 H289 M272.5,1555.1 H288" stroke-width="1.8" fill="none" stroke="#4d5160"/>
<path d="M275.5,1553.6 V1540.6 M277.3,1553.6 V1540.6 M284,1553.6 V1540.6 M285.8,1553.6 V1540.6" stroke-width="0.9" fill="none" stroke="#4d5160"/>
<path d="M269.5,1540.6 H290.5" stroke-width="0.8" fill="none" stroke="#4d5160"/>
<path d="M272.7,1503.6 V1527.6 M288.6,1503.6 V1527.6" stroke-width="0.9" fill="none" stroke="#7a7d88" stroke-dasharray="4 2"/>
<circle cx="281" cy="1515.2" r="6.2" stroke-width="1" stroke="#7a7d88"/>
<path d="M274,1506 H288 M274,1524.5 H288" stroke-width="0.8" fill="none" stroke="#7a7d88" stroke-dasharray="3 2"/>
<rect x="0" y="855" width="1.4" height="25" stroke-width="0" fill="#e6e6e8"/>
<g style="filter:grayscale(1)">
<text transform="translate(540.7,166.8) scale(0.97,1)" font-size="33" text-anchor="start" stroke="#fff" stroke-width="0.6" paint-order="fill stroke" fill="#9a9ca4">14</text>
<text transform="translate(596.3,166.8) scale(0.97,1)" font-size="33" text-anchor="start" stroke="#fff" stroke-width="0.6" paint-order="fill stroke" fill="#9a9ca4">15</text>
<text transform="translate(688.1,166.8) scale(0.97,1)" font-size="33" text-anchor="start" stroke="#fff" stroke-width="0.6" paint-order="fill stroke" fill="#6a6e7a">16</text>
<text transform="translate(740.5,167) scale(0.97,1)" font-size="33" text-anchor="start" stroke="#fff" stroke-width="0.6" paint-order="fill stroke" fill="#6a6e7a">17</text>
<text transform="translate(413.2,418.8) scale(0.97,1)" font-size="33" text-anchor="start" stroke="#fff" stroke-width="0.6" paint-order="fill stroke" fill="#6a6e7a">10</text>
<text transform="translate(525.8,419) scale(0.97,1)" font-size="33" text-anchor="start" stroke="#fff" stroke-width="0.6" paint-order="fill stroke" fill="#9a9ca4">11</text>
<text transform="translate(663.6,419.2) scale(0.97,1)" font-size="33" text-anchor="start" stroke="#fff" stroke-width="0.6" paint-order="fill stroke" fill="#6a6e7a">12</text>
<text transform="translate(734,419.3) scale(0.97,1)" font-size="33" text-anchor="start" stroke="#fff" stroke-width="0.6" paint-order="fill stroke" fill="#6a6e7a">13</text>
<text transform="translate(284.2,499.4) scale(1.0,1)" font-size="35" text-anchor="start" stroke="#fff" stroke-width="0.6" paint-order="fill stroke" fill="#6a6e7a">8</text>
<text transform="translate(359.7,499.9) scale(1.0,1)" font-size="35" text-anchor="start" stroke="#fff" stroke-width="0.6" paint-order="fill stroke" fill="#6a6e7a">9</text>
<text transform="translate(348.4,799.6) scale(0.97,1)" font-size="33" text-anchor="start" stroke="#fff" stroke-width="0.6" paint-order="fill stroke" fill="#6a6e7a">5</text>
<text transform="translate(409.6,800.2) scale(0.97,1)" font-size="33" text-anchor="start" stroke="#fff" stroke-width="0.6" paint-order="fill stroke" fill="#6a6e7a">6</text>
<text transform="translate(455.4,800.8) scale(0.97,1)" font-size="33" text-anchor="start" stroke="#fff" stroke-width="0.6" paint-order="fill stroke" fill="#6a6e7a">7</text>
<text transform="translate(174.5,855.3) scale(0.9,1)" font-size="33" text-anchor="start" stroke="#fff" stroke-width="0.6" paint-order="fill stroke" fill="#6a6e7a">4</text>
<text transform="translate(173.5,897.4) scale(0.9,1)" font-size="33" text-anchor="start" stroke="#fff" stroke-width="0.6" paint-order="fill stroke" fill="#6a6e7a">3</text>
<text transform="translate(229.2,1098.5) scale(0.97,1)" font-size="33" text-anchor="start" stroke="#fff" stroke-width="0.6" paint-order="fill stroke" fill="#9a9ca4">1</text>
<text transform="translate(340.2,1100) scale(0.97,1)" font-size="33" text-anchor="start" stroke="#fff" stroke-width="0.6" paint-order="fill stroke" fill="#6a6e7a">2</text>
<text transform="translate(203,995.3) rotate(-90) scale(0.7,1)" font-size="33" text-anchor="start" stroke="#fff" stroke-width="0.6" paint-order="fill stroke" fill="#9a9ca4">L</text>
<text transform="translate(203.3,950) rotate(-90) scale(0.58,1)" font-size="33" text-anchor="start" stroke="#fff" stroke-width="0.6" paint-order="fill stroke" fill="#9a9ca4">N</text>
<text transform="translate(742.6,896.7) scale(0.97,1)" font-size="33" text-anchor="start" stroke="#fff" stroke-width="0.6" paint-order="fill stroke" fill="#6a6e7a">19</text>
<text transform="translate(741.8,947.4) scale(0.97,1)" font-size="33" text-anchor="start" stroke="#fff" stroke-width="0.6" paint-order="fill stroke" fill="#6a6e7a">20</text>
<text transform="translate(740.8,994) scale(0.97,1)" font-size="33" text-anchor="start" stroke="#fff" stroke-width="0.6" paint-order="fill stroke" fill="#6a6e7a">21</text>
<text transform="translate(740.8,1050.9) scale(0.97,1)" font-size="33" text-anchor="start" stroke="#fff" stroke-width="0.6" paint-order="fill stroke" fill="#6a6e7a">22</text>
<text transform="translate(739.7,1146.8) scale(0.97,1)" font-size="33" text-anchor="start" stroke="#fff" stroke-width="0.6" paint-order="fill stroke" fill="#6a6e7a">23</text>
<text transform="translate(739.7,1214.4) scale(0.97,1)" font-size="33" text-anchor="start" stroke="#fff" stroke-width="0.6" paint-order="fill stroke" fill="#6a6e7a">24</text>
<text transform="translate(1121.9,694.9) scale(0.97,1)" font-size="33" text-anchor="start" stroke="#fff" stroke-width="0.6" paint-order="fill stroke" fill="#6a6e7a">18</text>
</g>
</svg>
</body></html>
